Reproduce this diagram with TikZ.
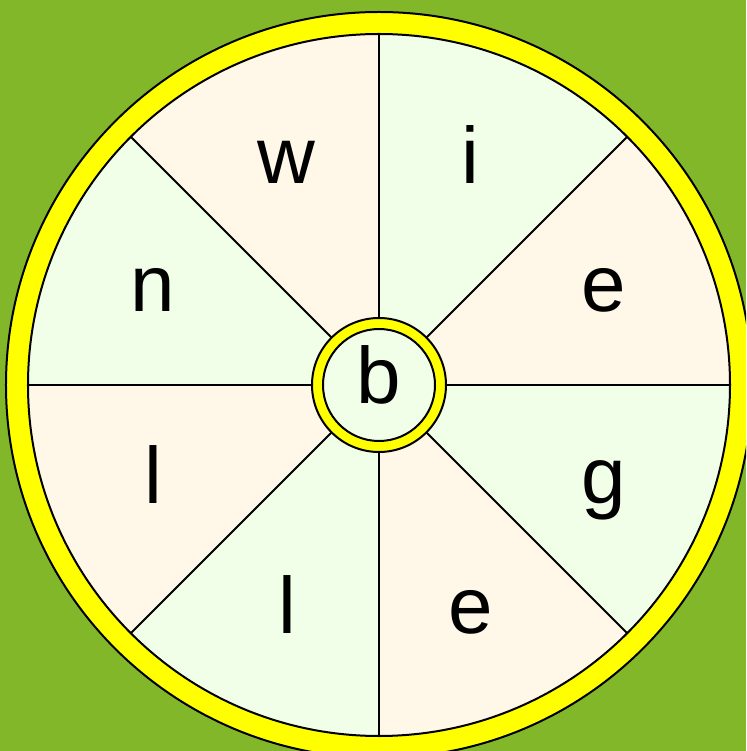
\documentclass[tikz,border=0pt]{standalone}
\usepackage{fontspec}
\setmainfont{Liberation Sans}
\definecolor{bggreen}{HTML}{83B72A}
\definecolor{ringyellow}{HTML}{FFFF00}
\definecolor{paleg}{HTML}{F1FFE8}
\definecolor{palec}{HTML}{FFF7E8}
\begin{document}
\begin{tikzpicture}[x=1pt,y=1pt,
  edge/.style={draw=black,line width=2pt},
  letter/.style={inner sep=0pt,anchor=base,font=\fontsize{80}{96}\selectfont,text=black}]
\useasboundingbox (-379,-366) rectangle (367,385);
\clip (-379,-366) rectangle (367,385);
\fill[bggreen] (-379,-366) rectangle (367,385);
% outer ring
\draw[edge,fill=ringyellow] (0,0) circle (373);
% sectors
\foreach \a/\c in {0/palec,45/paleg,90/palec,135/paleg,180/palec,225/paleg,270/palec,315/paleg}{
  \fill[\c] (0,0) -- (\a:351) arc (\a:\a+45:351) -- cycle;
}
\draw[edge] (0,0) circle (351);
\foreach \a in {0,45,...,315}{
  \draw[edge] (0,0) -- (\a:351);
}
% letters
\node[letter] (w) at (-93,201) {w};
\node[letter] (i) at (91,201) {i};
\node[letter] (e1) at (225,73) {e};
\node[letter] (g) at (225,-118) {g};
\node[letter] (e2) at (92,-248) {e};
\node[letter] (l1) at (-92,-248) {l};
\node[letter] (l2) at (-226,-118) {l};
\node[letter] (n) at (-226,73) {n};
% centre
\draw[edge,fill=ringyellow] (0,0) circle (67);
\draw[edge,fill=paleg] (0,0) circle (56);
\node[letter] (b) at (0,-19) {b};
\end{tikzpicture}
\end{document}
